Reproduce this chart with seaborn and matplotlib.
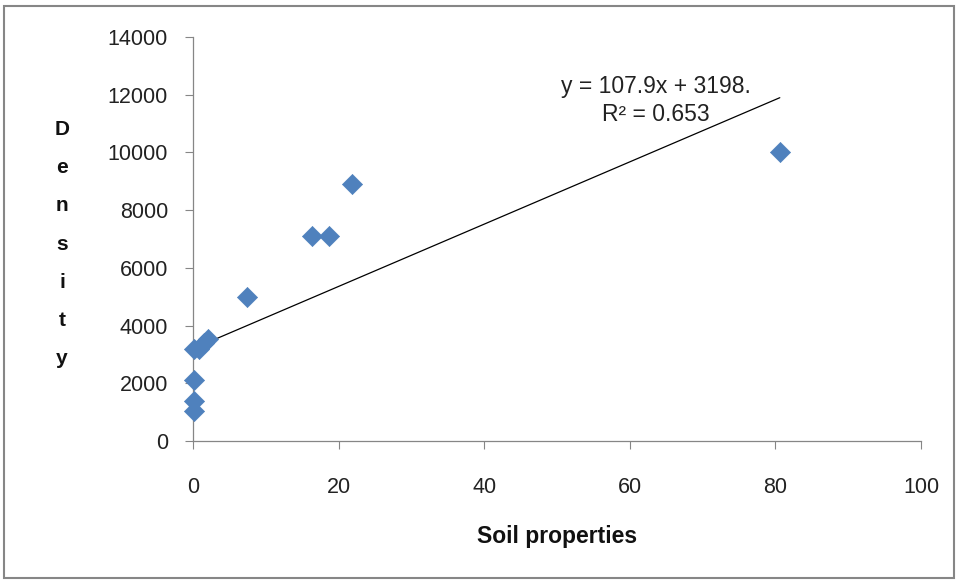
import numpy as np
import pandas as pd
import matplotlib
matplotlib.use("Agg")
import matplotlib.pyplot as plt
import seaborn as sns
from matplotlib.patches import Rectangle

# values
soil = [0.2, 0.8, 1.5, 2.0, 0.1, 0.1, 0.1, 7.4, 16.3, 18.7, 21.8, 80.6]
density = [3200, 3200, 3400, 3550, 2100, 1400, 1050, 5000, 7100, 7100, 8900, 10000]
slope = 107.9
intercept = 3198
eq_text = "y = 107.9x + 3198.\nR² = 0.653"

data = pd.DataFrame({"Soil properties": soil, "Density": density})

sns.set_style("white")
plt.rcParams["font.family"] = ["Liberation Sans", "DejaVu Sans"]

fig = plt.figure(figsize=(9.58, 5.8), dpi=100)
ax = fig.add_axes([0.2015, 0.2397, 0.7599, 0.6966])

sns.scatterplot(data=data, x="Soil properties", y="Density", marker="D",
                s=105, color="#4F81BD", edgecolor="#4F81BD", linewidth=0.5,
                ax=ax, zorder=3, clip_on=False)

# Excel linear trendline over the data range
xs = np.array([0.0, max(soil)])
ax.plot(xs, slope * xs + intercept, color="black", linewidth=0.9, zorder=2)

ax.set_xlim(0, 100)
ax.set_ylim(0, 14000)
ax.set_xticks(range(0, 101, 20))
ax.set_yticks(range(0, 14001, 2000))
ax.set_xlabel("")
ax.set_ylabel("")
ax.tick_params(axis="both", labelsize=15.5, colors="#222222", length=6,
               width=0.8, direction="out", left=True, bottom=True)
ax.tick_params(axis="x", pad=20, colors="#868686", labelcolor="#222222")
ax.tick_params(axis="y", pad=12, colors="#868686", labelcolor="#222222")
for side in ["top", "right"]:
    ax.spines[side].set_visible(False)
for side in ["left", "bottom"]:
    ax.spines[side].set_color("#868686")
    ax.spines[side].set_linewidth(0.9)

ax.text(63.6, 11800, eq_text, ha="center", va="center", fontsize=16.5,
        color="#222222", linespacing=1.3)

fig.text(62 / 958, 1 - 244 / 580, "\n".join("Density"), ha="center",
         va="center", fontsize=15, fontweight="bold", linespacing=2.27,
         color="#111111")
fig.text(557 / 958, 1 - 537 / 580, "Soil properties", ha="center",
         va="center", fontsize=16.5, fontweight="bold", color="#111111")

fig.patches.append(Rectangle((4 / 958, 2 / 580), 950 / 958, 572 / 580,
                             transform=fig.transFigure, fill=False,
                             edgecolor="#868686", linewidth=1.5))

fig.savefig("out.png", dpi=100)
